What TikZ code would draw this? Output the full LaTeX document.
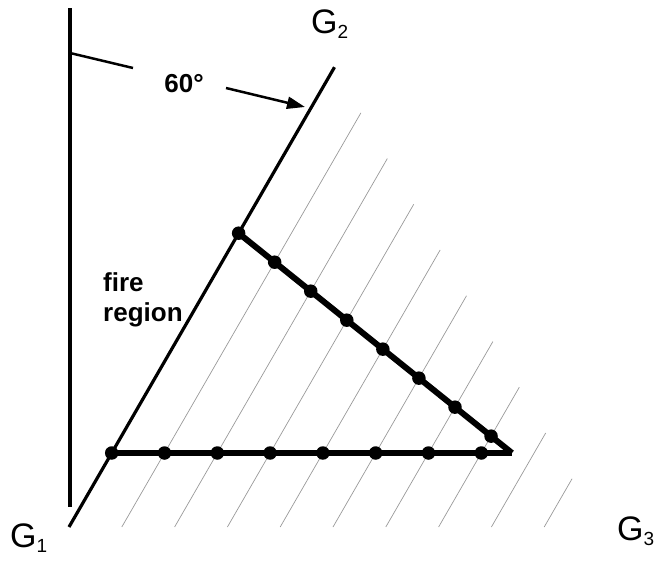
\documentclass[tikz,border=0pt]{standalone}
\usepackage{fontspec}
\setmainfont{Liberation Sans}
\usetikzlibrary{arrows.meta,calc}
\tikzset{
  wall/.style={line width=3.6pt},
  ray/.style={line width=3.2pt},
  hatchline/.style={gray!80,line width=0.7pt},
  chain/.style={line width=6pt},
  knot/.style={circle,fill=black,inner sep=0pt,minimum size=13.5pt},
  glabel/.style={font=\fontsize{34}{34}\selectfont,inner sep=0pt,anchor=base west},
  note/.style={font=\fontsize{26}{30}\selectfont\bfseries,inner sep=0pt,align=left},
  pointer/.style={-{Triangle[length=18pt,width=12pt]},line width=2.5pt}
}
\newcommand{\gsub}[1]{\raisebox{-5pt}{\fontsize{19}{19}\selectfont #1}}

\begin{document}
\begin{tikzpicture}[x=1pt,y=-1pt]
\useasboundingbox (0,0) rectangle (662,562);

% hatching of the region right of G2
\foreach \i in {1,...,9}{
  \pgfmathsetmacro\bx{69+52.8*\i}
  \pgfmathsetmacro\len{531-52.8*\i}
  \draw[hatchline] (\bx,527) -- ++({0.5*\len},{-0.866*\len});
}

% boundaries
\coordinate (g1top) at (70,8);
\coordinate (g1bot) at (70,507);
\coordinate (g2bot) at (69,527);
\coordinate (g2top) at (334.5,67.2);
\draw[wall] (g1top) -- (g1bot);
\draw[ray] (g2bot) -- (g2top);
\coordinate (tickstart) at (70,53);
\coordinate (tickend) at (133,68);
\draw[line width=2.5pt] (tickstart) -- (tickend);

% the two chains
\coordinate (base) at (111,453);
\coordinate (apex) at (512,453);
\coordinate (top) at (238.5,233.1);
\draw[chain] (base) -- (apex);
\draw[chain] (top) -- (apex);
\foreach \i in {0,...,7}{
  \pgfmathsetmacro\bx{69+52.8*\i}
  \pgfmathsetmacro\dy{(\bx+355.7)/1.8212}
  \pgfmathsetmacro\dx{238.5+1.2438*(\dy-233.1)}
  \node[knot] (h\i) at ({\bx+42.7},453) {};
  \node[knot] (d\i) at (\dx,\dy) {};
}

% labels
\node[glabel] (g2) at (311,34) {G\gsub{2}};
\node[glabel] (g1) at (10,547) {G\gsub{1}};
\node[glabel] (g3) at (617,540) {G\gsub{3}};
\node[note] (angle) at (184,84) {60°};
\node[note,anchor=north west] (fire) at (103,272) {fire\\region};

\coordinate (arrowstart) at (226,88);
\coordinate (arrowtip) at (305,107);
\draw[pointer] (arrowstart) -- (arrowtip);
\end{tikzpicture}
\end{document}
